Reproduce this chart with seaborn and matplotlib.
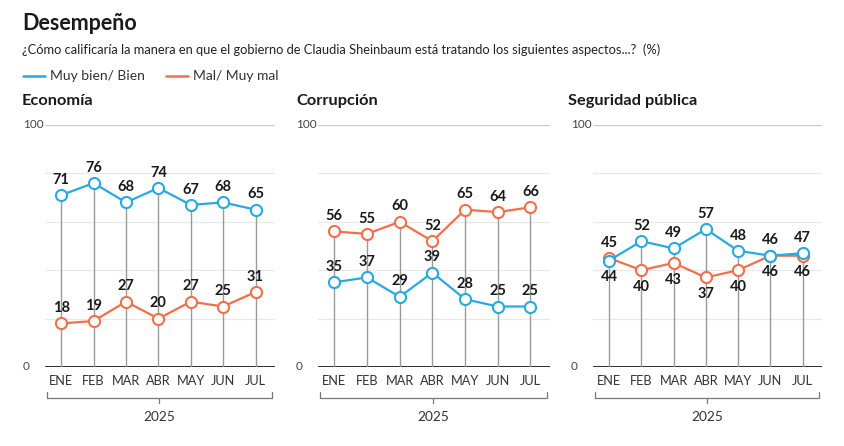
import numpy as np
import pandas as pd
import seaborn as sns
import matplotlib.pyplot as plt
from matplotlib.lines import Line2D

# data
meses = ["ENE", "FEB", "MAR", "ABR", "MAY", "JUN", "JUL"]
paneles = ["Economía", "Corrupción", "Seguridad pública"]
econ_bien = [71, 76, 68, 74, 67, 68, 65]
econ_mal = [18, 19, 27, 20, 27, 25, 31]
corr_bien = [35, 37, 29, 39, 28, 25, 25]
corr_mal = [56, 55, 60, 52, 65, 64, 66]
seg_bien = [44, 52, 49, 57, 48, 46, 47]
seg_mal = [45, 40, 43, 37, 40, 46, 46]
anio = "2025"

serie_bien = "Muy bien/ Bien"
serie_mal = "Mal/ Muy mal"
AZUL = "#27aae1"
NARANJA = "#f26f4c"

sns.set_style("white")
plt.rcParams["font.family"] = ["Lato", "DejaVu Sans"]

fig = plt.figure(figsize=(8.45, 4.46), dpi=100)
W, H = 845, 446

# header
fig.text(22 / W, 1 - 24 / H, "Desempeño", fontsize=15.5, fontweight="bold",
         color="#1a1a1a", va="center")
fig.text(22 / W, 1 - 50 / H,
         "¿Cómo calificaría la manera en que el gobierno de Claudia Sheinbaum "
         "está tratando los siguientes aspectos...?  (%)",
         fontsize=9.3, color="#222222", va="center")
for x0, col, txt in [(23, AZUL, serie_bien), (166, NARANJA, serie_mal)]:
    fig.add_artist(Line2D([x0 / W, (x0 + 22) / W], [1 - 76 / H] * 2,
                          color=col, lw=1.8, transform=fig.transFigure))
    fig.text((x0 + 27) / W, 1 - 76 / H, txt, fontsize=10, color="#333333",
             va="center")

# panel geometry in pixels: (axes left, axes right, title x)
geo = [(45, 275, 22), (318, 550, 296), (593, 822, 568)]
datos = [(econ_bien, econ_mal), (corr_bien, corr_mal), (seg_bien, seg_mal)]
abajo = [False, False, True]  # lower series labels below the points

y0, y100 = 367, 125
for (xl, xr, xt), titulo, (bien, mal), baja in zip(geo, paneles, datos, abajo):
    ax = fig.add_axes([xl / W, (H - y0) / H, (xr - xl) / W, (y0 - y100) / H])
    fig.text(xt / W, 1 - 101 / H, titulo, fontsize=11.8, fontweight="bold",
             color="#1a1a1a", va="center")

    df = pd.DataFrame({
        "pos": list(range(len(meses))) * 2,
        "valor": mal + bien,
        "serie": [serie_mal] * len(meses) + [serie_bien] * len(meses),
    })

    # grid
    for g in [20, 40, 60, 80]:
        ax.axhline(g, color="#e8e8e8", lw=0.9, zorder=0)
    ax.axhline(100, color="#cccccc", lw=0.9, zorder=0)
    ax.axhline(0, color="#1a1a1a", lw=2, zorder=1)
    tope = np.maximum(bien, mal)
    ax.vlines(range(len(meses)), 0, tope, color="#9a9a9a", lw=1, zorder=1)

    for serie, col in [(serie_mal, NARANJA), (serie_bien, AZUL)]:
        sns.lineplot(data=df[df["serie"] == serie], x="pos", y="valor", ax=ax,
                     color=col, lw=1.6, marker="o", markersize=8,
                     markerfacecolor="white", markeredgecolor=col,
                     markeredgewidth=1.5, zorder=3)

    for i in range(len(meses)):
        b, m = bien[i], mal[i]
        # which one is on top (ties: blue on top)
        bien_arriba = b >= m
        for v, es_bien in [(b, True), (m, False)]:
            arriba = True
            if baja and (es_bien != bien_arriba):
                arriba = False
            ax.annotate(str(v), (i, v), xytext=(0, 6 if arriba else -7),
                        textcoords="offset points", ha="center",
                        va="bottom" if arriba else "top",
                        fontsize=10.5, fontweight="bold", color="#1a1a1a",
                        zorder=5)

    ax.set_xlim(-0.5, 6.6)
    ax.set_ylim(0, 100)
    ax.set_xticks(range(len(meses)))
    ax.set_xticklabels(meses, fontsize=9.2, color="#333333")
    ax.set_yticks([])
    ax.tick_params(axis="x", length=0, pad=6)
    ax.set_xlabel("")
    ax.set_ylabel("")
    sns.despine(ax=ax, left=True, bottom=True)

    # y labels
    wpx = xr - xl
    for val in [0, 100]:
        ax.text(-(45 - 23) / wpx, val, str(val), transform=ax.get_yaxis_transform(),
                ha="left", va="center", fontsize=8.5, color="#444444")

    # year bracket
    bk = dict(transform=ax.transAxes, clip_on=False, color="#777777", lw=0.9)
    ax.plot([0.01, 0.01, 0.985, 0.985], [-0.103, -0.128, -0.128, -0.103], **bk)
    ax.plot([0.4975, 0.4975], [-0.128, -0.150], **bk)
    ax.text(0.4975, -0.207, anio, transform=ax.transAxes, ha="center",
            va="center", fontsize=9.8, color="#333333")

fig.savefig("out.png", dpi=100)
